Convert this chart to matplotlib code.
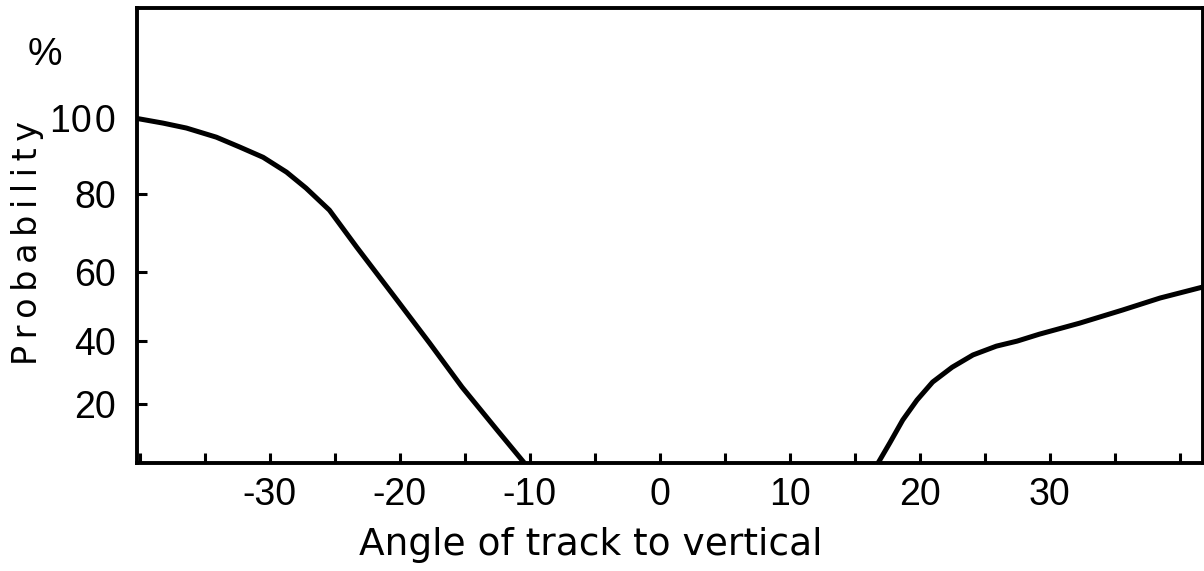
import numpy as np
import matplotlib
matplotlib.use('Agg')
import matplotlib.pyplot as plt
from matplotlib.ticker import MultipleLocator

# Curve: angle (deg) vs probability (%)
left_angle = [-40, -38.2, -36.4, -34.1, -32.3, -30.5, -28.7, -27.2, -25.4, -23.3,
              -20.2, -17.7, -15.2, -12.5, -10.4]
left_prob = [99.8, 98.7, 97.4, 95, 92.4, 89.7, 85.8, 81.6, 75.9, 66.4,
             51.9, 39.4, 25.4, 11.2, 0]
right_angle = [16.8, 17.7, 18.7, 19.8, 21.0, 22.5, 24.1, 25.9, 27.5, 29.2,
               32.3, 35.6, 38.5, 41.8]
right_prob = [0, 6.8, 14.6, 21.3, 27, 31.7, 35.6, 38.4, 40, 42,
              45.2, 49, 52.5, 55.7]

x_major = [-30, -20, -10, 0, 10, 20, 30]
x_labels = ["-30", "-20", "-10", "0", "10", "20", "30"]
y_ticks = [20, 40, 60, 80, 100]
y_labels = ["20", "40", "60", "80", "10\u200a0"]

# the printed probability axis is not evenly spaced; knots of that scale
y_knots = [0, 20, 40, 60, 80, 100, 130]
y_height = [0, 59, 122, 191, 269, 345, 459]


def fwd(v):
    return np.interp(v, y_knots, y_height, left=-1e3, right=1e3)


def inv(h):
    return np.interp(h, y_height, y_knots, left=-1e3, right=1e3)


plt.rcParams['font.family'] = ['Liberation Sans', 'DejaVu Sans']

fig = plt.figure(figsize=(12.04, 5.71), dpi=100)
ax = fig.add_axes([0.1138, 0.189, 0.8854, 0.797])

ax.plot(left_angle, left_prob, color='black', lw=3.6, solid_joinstyle='round')
ax.plot(right_angle, right_prob, color='black', lw=3.6, solid_joinstyle='round')

ax.set_yscale('function', functions=(fwd, inv))
ax.set_xlim(-40.2, 41.8)
ax.set_ylim(0, 129)

for s in ax.spines.values():
    s.set_linewidth(2.8)

ax.set_xticks(x_major)
ax.set_xticklabels(x_labels)
ax.xaxis.set_minor_locator(MultipleLocator(5))
ax.set_yticks(y_ticks)
ax.set_yticklabels(y_labels)
ax.yaxis.set_minor_locator(plt.NullLocator())
ax.yaxis.get_major_ticks()[-1].tick1line.set_visible(False)

ax.tick_params(axis='both', which='both', direction='in', width=2.2, length=7,
               labelsize=27, top=False, right=False)
ax.tick_params(axis='x', pad=10)
ax.tick_params(axis='y', pad=15)

fig.text(45 / 1204, 1 - 55 / 571, "%", fontsize=28, ha='center', va='center')
ylab = "\u2009".join("Probability")
fig.text(28 / 1204, 1 - 243 / 571, ylab, fontsize=24, rotation=90,
         ha='center', va='center', family='DejaVu Sans')
fig.text(591 / 1204, 1 - 545 / 571, "Angle of track to vertical", fontsize=27,
         ha='center', va='center', family='DejaVu Sans')

plt.savefig('out.png', dpi=100)
